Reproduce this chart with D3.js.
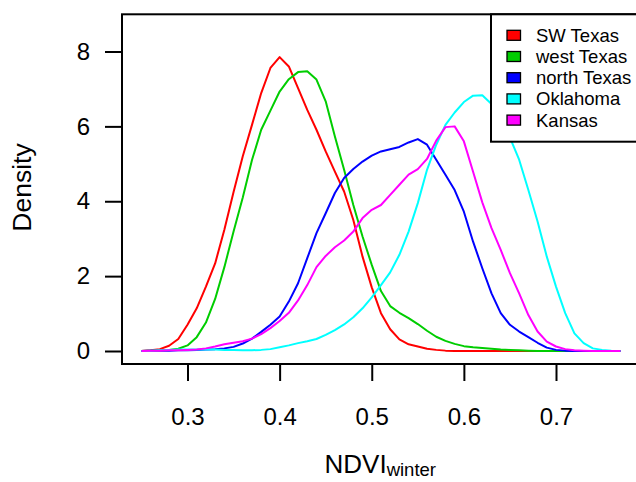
<!DOCTYPE html>
<html>
<head>
<meta charset="utf-8">
<script src="https://cdn.jsdelivr.net/npm/d3@7"></script>
<style>
  body { margin: 0; background: #fff; }
  svg { display: block; font-family: "Liberation Sans", Arial, Helvetica, sans-serif; }
  .curve { fill: none; stroke-width: 2; stroke-linejoin: round; }
</style>
</head>
<body>
<script>
// NDVI grid the densities were evaluated on
var ndvi = [0.25, 0.26, 0.27, 0.28, 0.29, 0.30, 0.31, 0.32, 0.33, 0.34,
            0.35, 0.36, 0.37, 0.38, 0.39, 0.40, 0.41, 0.42, 0.43, 0.44,
            0.45, 0.46, 0.47, 0.48, 0.49, 0.50, 0.51, 0.52, 0.53, 0.54,
            0.55, 0.56, 0.57, 0.58, 0.59, 0.60, 0.61, 0.62, 0.63, 0.64,
            0.65, 0.66, 0.67, 0.68, 0.69, 0.70, 0.71, 0.72, 0.73, 0.74,
            0.75, 0.76, 0.77];

var swTexas = [0, 0.02, 0.05, 0.14, 0.32, 0.70, 1.14, 1.72, 2.34, 3.24,
               4.25, 5.20, 6.04, 6.89, 7.56, 7.85, 7.60, 7.02, 6.44, 5.91,
               5.33, 4.79, 4.26, 3.50, 2.52, 1.70, 1.01, 0.58, 0.31, 0.18,
               0.12, 0.06, 0.03, 0.01, 0, 0, 0, 0, 0, 0,
               0, 0, 0, 0, 0, 0, 0, 0, 0, 0,
               0, 0, 0];

var westTexas = [0, 0.01, 0.02, 0.03, 0.06, 0.15, 0.37, 0.76, 1.39, 2.24,
                 3.19, 4.10, 5.10, 5.91, 6.42, 6.93, 7.26, 7.45, 7.47, 7.25,
                 6.67, 5.73, 4.84, 3.90, 3.06, 2.30, 1.60, 1.20, 1.02, 0.88,
                 0.72, 0.54, 0.38, 0.27, 0.19, 0.13, 0.10, 0.08, 0.06, 0.04,
                 0.03, 0.02, 0.01, 0, 0, 0, 0, 0, 0, 0,
                 0, 0, 0];

var northTexas = [0, 0.01, 0.01, 0.01, 0.02, 0.02, 0.03, 0.04, 0.05, 0.07,
                  0.11, 0.20, 0.33, 0.51, 0.70, 0.92, 1.32, 1.81, 2.48, 3.15,
                  3.68, 4.22, 4.62, 4.86, 5.06, 5.22, 5.33, 5.39, 5.45, 5.57,
                  5.66, 5.51, 5.11, 4.71, 4.30, 3.72, 2.92, 2.21, 1.54, 1.01,
                  0.70, 0.52, 0.37, 0.22, 0.09, 0.03, 0.01, 0, 0, 0,
                  0, 0, 0];

var oklahoma = [0, 0.01, 0.02, 0.03, 0.04, 0.04, 0.04, 0.04, 0.04, 0.03,
                0.03, 0.02, 0.02, 0.03, 0.05, 0.10, 0.15, 0.21, 0.26, 0.32,
                0.43, 0.56, 0.71, 0.90, 1.14, 1.43, 1.76, 2.10, 2.57, 3.19,
                3.95, 4.84, 5.51, 6.04, 6.37, 6.65, 6.82, 6.83, 6.60, 6.15,
                5.70, 5.11, 4.30, 3.46, 2.52, 1.72, 1.01, 0.47, 0.21, 0.07,
                0.03, 0.01, 0];

var kansas = [0, 0.01, 0.01, 0.02, 0.02, 0.03, 0.04, 0.07, 0.12, 0.18,
              0.22, 0.26, 0.33, 0.45, 0.61, 0.80, 1.02, 1.35, 1.76, 2.24,
              2.54, 2.77, 2.95, 3.19, 3.55, 3.77, 3.90, 4.17, 4.44, 4.71,
              4.86, 5.13, 5.62, 5.98, 6.00, 5.60, 4.79, 3.97, 3.28, 2.70,
              2.08, 1.54, 0.96, 0.52, 0.25, 0.12, 0.05, 0.02, 0.01, 0,
              0, 0, 0];

var regions = ["SW Texas", "west Texas", "north Texas", "Oklahoma", "Kansas"];
var colors = ["#ff0000", "#00cd00", "#0000ff", "#00ffff", "#ff00ff"];
var seriesValues = [swTexas, westTexas, northTexas, oklahoma, kansas];

var xTicks = [0.3, 0.4, 0.5, 0.6, 0.7];
var yTicks = [0, 2, 4, 6, 8];

var width = 636, height = 482;

// plot frame (right side runs off the page like the original)
var frame = { left: 122, top: 14.3, bottom: 364, right: 700 };

var x = d3.scaleLinear().domain([0.3, 0.7]).range([187.5, 556]);
var y = d3.scaleLinear().domain([0, 8]).range([351, 51.5]);

var svg = d3.select("body").append("svg")
    .attr("width", width)
    .attr("height", height);

// density curves
var line = d3.line()
    .x(function (d) { return x(d[0]); })
    .y(function (d) { return y(d[1]); });

seriesValues.forEach(function (vals, i) {
    svg.append("path")
        .attr("class", "curve")
        .attr("stroke", colors[i])
        .attr("d", line(ndvi.map(function (v, j) { return [v, vals[j]]; })));
});

// box around the plot
svg.append("rect")
    .attr("x", frame.left)
    .attr("y", frame.top)
    .attr("width", frame.right - frame.left)
    .attr("height", frame.bottom - frame.top)
    .attr("fill", "none")
    .attr("stroke", "#000")
    .attr("stroke-width", 2);

// x axis
var xAxis = svg.append("g")
    .attr("transform", "translate(0," + frame.bottom + ")")
    .call(d3.axisBottom(x).tickValues(xTicks).tickSize(17).tickPadding(27)
        .tickFormat(d3.format(".1f")));
xAxis.select(".domain").remove();
xAxis.selectAll("line").attr("stroke-width", 2);
xAxis.selectAll("text")
    .attr("font-size", 24)
    .attr("font-family", null)
    .attr("fill", "#000");

// y axis
var yAxis = svg.append("g")
    .attr("transform", "translate(" + frame.left + ",0)")
    .call(d3.axisLeft(y).tickValues(yTicks).tickSize(17).tickPadding(15));
yAxis.select(".domain").remove();
yAxis.selectAll("line").attr("stroke-width", 2);
yAxis.selectAll("text")
    .attr("font-size", 24)
    .attr("font-family", null)
    .attr("fill", "#000");

// axis titles
var xTitle = svg.append("text")
    .attr("x", 324.5)
    .attr("y", 473.3)
    .attr("font-size", 26);
xTitle.append("tspan").text("NDVI");
xTitle.append("tspan")
    .attr("font-size", 18.5)
    .attr("dy", 3)
    .text("winter");

svg.append("text")
    .attr("transform", "translate(31,187.5) rotate(-90)")
    .attr("text-anchor", "middle")
    .attr("font-size", 26.5)
    .text("Density");

// legend
var legend = svg.append("g");
legend.append("rect")
    .attr("x", 491)
    .attr("y", frame.top)
    .attr("width", 200)
    .attr("height", 127.4)
    .attr("fill", "#fff")
    .attr("stroke", "#000")
    .attr("stroke-width", 2);

regions.forEach(function (name, i) {
    var cy = 35.3 + i * 21.2;
    legend.append("rect")
        .attr("x", 507)
        .attr("y", cy - 5)
        .attr("width", 13.5)
        .attr("height", 10)
        .attr("fill", colors[i])
        .attr("stroke", "#000")
        .attr("stroke-width", 1.3);
    legend.append("text")
        .attr("x", 536)
        .attr("y", cy)
        .attr("dy", "0.35em")
        .attr("font-size", 18.5)
        .text(name);
});
</script>
</body>
</html>
